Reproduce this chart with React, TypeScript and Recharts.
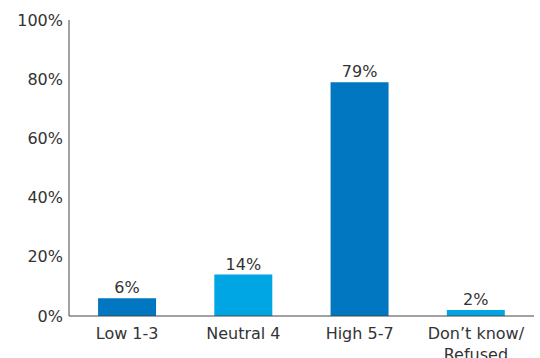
import React from 'react';
import { BarChart, Bar, XAxis, YAxis, LabelList, Cell } from 'recharts';

const categories = ['Low 1-3', 'Neutral 4', 'High 5-7', 'Don\u2019t know/ Refused'];
const values = [6, 14, 79, 2];
const barColors = ['#0077C0', '#00A5E3', '#0077C0', '#00A5E3'];
const yTicks = [0, 20, 40, 60, 80, 100];

const data = categories.map((name, i) => ({ name, value: values[i] }));

const FONT = '"DejaVu Sans", sans-serif';

function CategoryTick(props: any) {
  const { x, y, payload } = props;
  const lines = String(payload.value).split('/ ');
  return (
    <text x={x} y={y} textAnchor="middle" fill="#333" fontSize={16} fontFamily={FONT}>
      {lines.map((line, i) => (
        <tspan key={i} x={x} dy={i === 0 ? 15 : 21}>
          {i < lines.length - 1 ? line + '/' : line}
        </tspan>
      ))}
    </text>
  );
}

export default function App() {
  return (
    <div style={{ position: 'absolute', left: 0, top: 0, background: '#fff' }}>
      <BarChart
        width={540}
        height={358}
        data={data}
        margin={{ top: 20, right: 6, left: 0, bottom: 0 }}
        barCategoryGap="25%"
      >
        <XAxis
          dataKey="name"
          axisLine={{ stroke: '#444' }}
          tickLine={false}
          height={42}
          interval={0}
          tick={<CategoryTick />}
        />
        <YAxis
          domain={[0, 100]}
          ticks={yTicks}
          width={69}
          axisLine={{ stroke: '#444' }}
          tickLine={false}
          tickFormatter={(v: number) => `${v}%`}
          tick={{ fill: '#333', fontSize: 16, fontFamily: FONT }}
          tickMargin={0}
        />
        <Bar dataKey="value" isAnimationActive={false}>
          {data.map((d, i) => (
            <Cell key={d.name} fill={barColors[i]} />
          ))}
          <LabelList
            dataKey="value"
            position="top"
            offset={5}
            formatter={(v: any) => `${v}%`}
            style={{ fill: '#333', fontSize: 16, fontFamily: FONT }}
          />
        </Bar>
      </BarChart>
    </div>
  );
}
